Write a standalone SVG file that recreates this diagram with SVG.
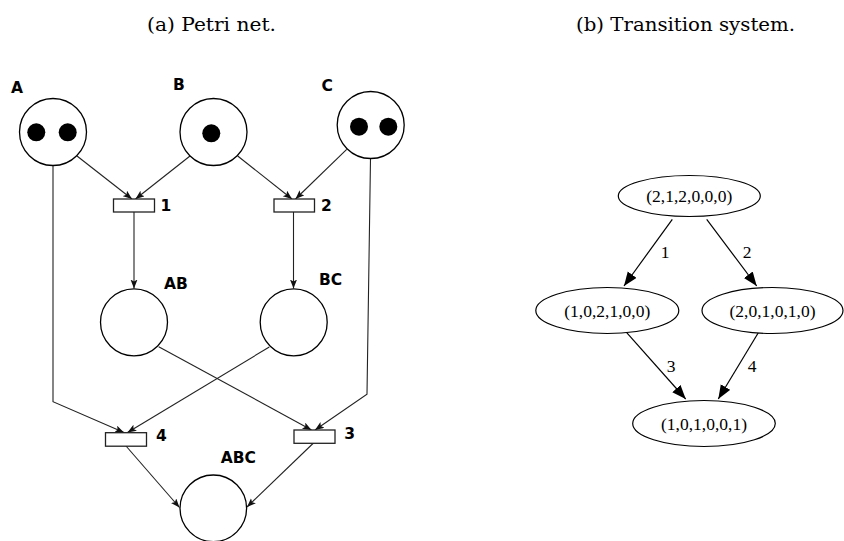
<svg xmlns="http://www.w3.org/2000/svg" width="844" height="541" viewBox="0 0 844 541">
<style>
.cap{font-family:"DejaVu Serif","Liberation Serif",serif;font-size:19px;fill:#000}
.pl{fill:#fff;stroke:#000;stroke-width:1.3}
.tok{fill:#000}
.tr{fill:#fff;stroke:#222;stroke-width:1.3}
.lb{font-family:"DejaVu Sans","Liberation Sans",sans-serif;font-weight:bold;font-size:15.5px;fill:#000}
.arc{fill:none;stroke:#222;stroke-width:1.1;marker-end:url(#pa)}
.st{fill:#fff;stroke:#000;stroke-width:1.2}
.tt{font-family:"Liberation Serif","Times New Roman",serif;font-size:17.5px;fill:#000;text-anchor:middle}
.ed{fill:none;stroke:#000;stroke-width:1.2;marker-end:url(#ta)}
</style>
<defs>
<marker id="pa" markerUnits="userSpaceOnUse" markerWidth="10" markerHeight="8" refX="9" refY="3.5" orient="auto">
<path d="M0,0 L9,3.5 L0,7 L2,3.5 z" fill="#111"/>
</marker>
<marker id="ta" markerUnits="userSpaceOnUse" markerWidth="15" markerHeight="12" refX="14" refY="5.5" orient="auto">
<path d="M0,0 L14,5.5 L0,11 z" fill="#000"/>
</marker>
</defs>
<rect width="844" height="541" fill="#fff"/>
<text class="cap" x="147" y="31" textLength="129" lengthAdjust="spacingAndGlyphs">(a) Petri net.</text>
<text class="cap" x="576" y="31" textLength="219" lengthAdjust="spacingAndGlyphs">(b) Transition system.</text>

<g id="petri-connectors">
<line class="arc" x1="77" y1="156" x2="132" y2="199"/>
<line class="arc" x1="190" y1="156" x2="135.5" y2="199"/>
<line class="arc" x1="237.7" y1="156" x2="292" y2="199"/>
<line class="arc" x1="346.7" y1="149.3" x2="295.5" y2="199"/>
<line class="arc" x1="134" y1="212" x2="134" y2="288.5"/>
<line class="arc" x1="293.5" y1="212" x2="293.5" y2="288.5"/>
<polyline class="arc" points="53,165.5 53,401.7 124,432.5"/>
<line class="arc" x1="269.3" y1="347" x2="127.5" y2="432.5"/>
<line class="arc" x1="158.7" y1="346.7" x2="311.5" y2="430"/>
<polyline class="arc" points="370.5,158.5 367,394.3 315,430"/>
<line class="arc" x1="126" y1="446" x2="179.5" y2="507.5"/>
<line class="arc" x1="313.5" y1="443" x2="247" y2="507"/>
</g>

<g id="place-A">
<circle class="pl" cx="53" cy="132" r="33.5"/>
<circle class="tok" cx="36.3" cy="132.3" r="9"/>
<circle class="tok" cx="67.7" cy="132.3" r="9"/>
<text class="lb" x="11" y="93">A</text>
</g>
<g id="place-B">
<circle class="pl" cx="213.5" cy="132" r="33.5"/>
<circle class="tok" cx="211.3" cy="133.3" r="9"/>
<text class="lb" x="173" y="90">B</text>
</g>
<g id="place-C">
<circle class="pl" cx="370.7" cy="125" r="33.5"/>
<circle class="tok" cx="359" cy="126.7" r="9"/>
<circle class="tok" cx="388.3" cy="126.7" r="9"/>
<text class="lb" x="321.5" y="90.5">C</text>
</g>
<g id="trans-1">
<rect class="tr" x="113.5" y="199" width="41" height="13"/>
<text class="lb" x="160.5" y="210.7">1</text>
</g>
<g id="trans-2">
<rect class="tr" x="274" y="199" width="40.5" height="13"/>
<text class="lb" x="321" y="210.7">2</text>
</g>
<g id="place-AB">
<circle class="pl" cx="134" cy="322.3" r="33.5"/>
<text class="lb" x="164" y="289">AB</text>
</g>
<g id="place-BC">
<circle class="pl" cx="293.7" cy="322.3" r="33.5"/>
<text class="lb" x="319" y="285">BC</text>
</g>
<g id="trans-4">
<rect class="tr" x="105.5" y="432.7" width="41" height="13.5"/>
<text class="lb" x="156" y="441">4</text>
</g>
<g id="trans-3">
<rect class="tr" x="294" y="430" width="41" height="13.3"/>
<text class="lb" x="344.3" y="439">3</text>
</g>
<g id="place-ABC">
<circle class="pl" cx="213.3" cy="508.3" r="33.3"/>
<text class="lb" x="220.7" y="462.7">ABC</text>
</g>

<g id="ts-connectors">
<line class="ed" x1="672.3" y1="219.3" x2="624" y2="286"/>
<line class="ed" x1="706.7" y1="219.3" x2="756.7" y2="286"/>
<line class="ed" x1="626.7" y1="332.7" x2="685.7" y2="399"/>
<line class="ed" x1="758.3" y1="332.7" x2="718.3" y2="399"/>
<text class="tt" x="665" y="258.3">1</text>
<text class="tt" x="747" y="258.3">2</text>
<text class="tt" x="671" y="372.3">3</text>
<text class="tt" x="752" y="372.3">4</text>
</g>
<g id="s0">
<ellipse class="st" cx="689.3" cy="196" rx="71" ry="20.5"/>
<text class="tt" x="689.3" y="202">(2,1,2,0,0,0)</text>
</g>
<g id="s1">
<ellipse class="st" cx="607.3" cy="310.5" rx="71.5" ry="23"/>
<text class="tt" x="607.3" y="316.5">(1,0,2,1,0,0)</text>
</g>
<g id="s2">
<ellipse class="st" cx="772.5" cy="310.5" rx="70.5" ry="23"/>
<text class="tt" x="772.5" y="316.5">(2,0,1,0,1,0)</text>
</g>
<g id="s3">
<ellipse class="st" cx="704" cy="423.5" rx="71.3" ry="23"/>
<text class="tt" x="704" y="429.5">(1,0,1,0,0,1)</text>
</g>
</svg>
